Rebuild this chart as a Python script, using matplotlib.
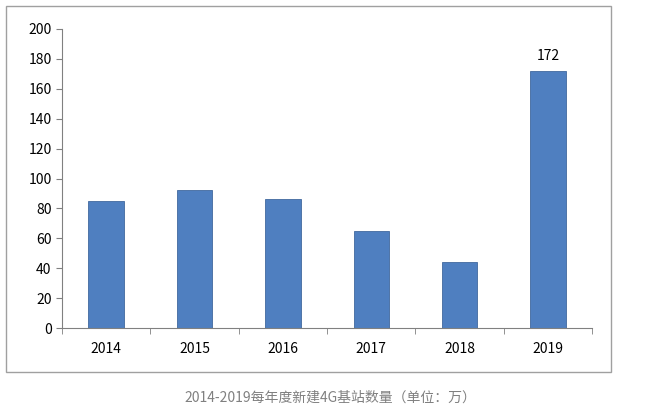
import matplotlib.pyplot as plt
import matplotlib.patches as patches

plt.rcParams['font.family'] = ['Noto Sans CJK SC', 'DejaVu Sans']

years = ['2014', '2015', '2016', '2017', '2018', '2019']
values = [85, 92, 86, 65, 44, 172]

fig = plt.figure(figsize=(6.47, 4.16), dpi=100)
W, H = 647, 416
ax = fig.add_axes([62 / W, 1 - 328 / H, (592 - 62) / W, (328 - 29) / H])

# outer chart frame
fig.patches.append(patches.Rectangle((6 / W, 1 - 372 / H), (611 - 6) / W, (372 - 6) / H,
                                     transform=fig.transFigure, fill=False,
                                     edgecolor='#a0a0a0', linewidth=1))

x = range(len(years))
ax.bar(x, values, width=0.4, color='#4f7fc0', edgecolor='#41689e', linewidth=0.6)
ax.text(5, values[5] + 5, str(values[5]), ha='center', va='bottom', fontsize=10)

ax.set_xlim(-0.5, 5.5)
ax.set_ylim(0, 200)
ax.set_yticks(range(0, 201, 20))
ax.set_xticks(list(x))
ax.set_xticklabels(years)
ax.tick_params(axis='x', length=0, pad=10, labelsize=10)
ax.tick_params(axis='y', length=4, labelsize=10, color='#808080')
for s in ['top', 'right']:
    ax.spines[s].set_visible(False)
for s in ['left', 'bottom']:
    ax.spines[s].set_color('#808080')
# category boundary ticks
ax.set_xticks([i - 0.5 for i in range(7)], minor=True)
ax.tick_params(axis='x', which='minor', length=4, color='#808080')

fig.text(330 / W, 1 - 398 / H, '2014-2019每年度新建4G基站数量（单位：万）',
         ha='center', va='center', fontsize=10, color='#808080')

fig.savefig('out.png', dpi=100)
